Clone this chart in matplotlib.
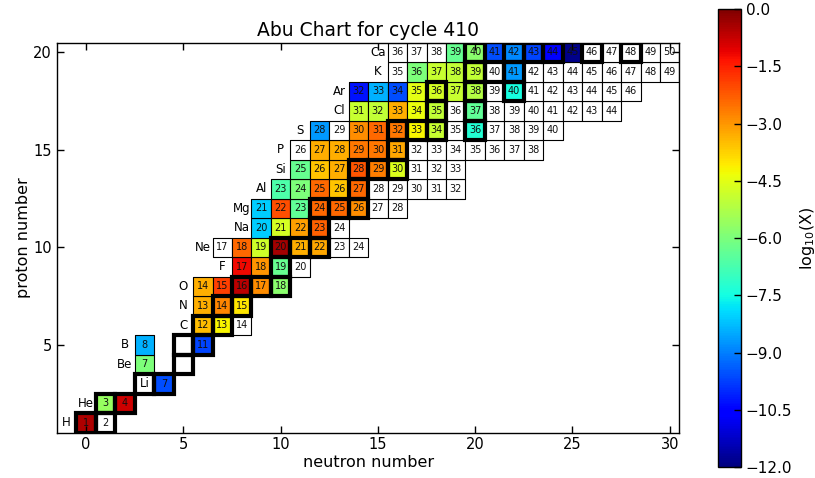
import numpy as np
import matplotlib
matplotlib.use('Agg')
import matplotlib.pyplot as plt
from matplotlib.patches import Rectangle
from matplotlib.collections import PatchCollection
from matplotlib.colors import Normalize

nan = np.nan

elements = ['H', 'He', 'Li', 'Be', 'B', 'C', 'N', 'O', 'F', 'Ne',
            'Na', 'Mg', 'Al', 'Si', 'P', 'S', 'Cl', 'Ar', 'K', 'Ca']
proton_numbers = [1, 2, 3, 4, 5, 6, 7, 8, 9, 10,
                  11, 12, 13, 14, 15, 16, 17, 18, 19, 20]

mass_numbers = [
    [1, 2],
    [3, 4],
    [7],
    [7],
    [8, 11],
    [12, 13, 14],
    [13, 14, 15],
    [14, 15, 16, 17, 18],
    [17, 18, 19, 20],
    [17, 18, 19, 20, 21, 22, 23, 24],
    [20, 21, 22, 23, 24],
    [21, 22, 23, 24, 25, 26, 27, 28],
    [23, 24, 25, 26, 27, 28, 29, 30, 31, 32],
    [25, 26, 27, 28, 29, 30, 31, 32, 33],
    [26, 27, 28, 29, 30, 31, 32, 33, 34, 35, 36, 37, 38],
    [28, 29, 30, 31, 32, 33, 34, 35, 36, 37, 38, 39, 40],
    [31, 32, 33, 34, 35, 36, 37, 38, 39, 40, 41, 42, 43, 44],
    [32, 33, 34, 35, 36, 37, 38, 39, 40, 41, 42, 43, 44, 45, 46],
    [35, 36, 37, 38, 39, 40, 41, 42, 43, 44, 45, 46, 47, 48, 49],
    [36, 37, 38, 39, 40, 41, 42, 43, 44, 45, 46, 47, 48, 49, 50],
]

# log10 mass fractions (nan = below plotting range, drawn white)
log_abundances = [
    [-0.5, nan],
    [-5.6, -0.8],
    [-9.6],
    [-6.0],
    [-8.4, -9.7],
    [-3.5, -4.2, nan],
    [-3.3, -2.8, -4.0],
    [-3.3, -1.9, -0.65, -2.9, -5.8],
    [-1.2, -3.0, -6.3, nan],
    [nan, -2.4, -4.8, -0.4, -3.3, -3.2, nan, nan],
    [-8.1, -4.7, -3.1, -2.3, nan],
    [-8.1, -2.1, -6.4, -2.4, -2.4, -2.9, nan, nan],
    [-6.7, -6.0, -2.4, -3.6, -2.4, nan, nan, nan, nan, nan],
    [-6.3, -3.6, -3.3, -2.2, -2.7, -4.6, nan, nan, nan],
    [nan, -3.3, -3.3, -2.6, -2.6, -3.2, nan, nan, nan, nan, nan, nan, nan],
    [-8.7, nan, -2.9, -2.4, -2.6, -4.2, -4.9, nan, -7.3, nan, nan, nan, nan],
    [-4.9, -5.0, -3.3, -4.4, -5.0, nan, -6.4, nan, nan, nan, nan, nan, nan, nan],
    [-10.3, -8.4, -9.6, -4.5, -4.7, -4.9, -5.2, nan, -7.5, nan, nan, nan, nan, nan, nan],
    [nan, -6.0, -4.9, -5.0, -5.0, nan, -8.7, nan, nan, nan, nan, nan, nan, nan, nan],
    [nan, nan, nan, -6.3, -5.8, -9.6, -8.9, -9.7, -10.6, -11.9, nan, nan, nan, nan, nan],
]

# stable isotopes (Z, A)
stable_isotopes = [
    (1, 1), (1, 2), (2, 3), (2, 4), (3, 6), (3, 7), (4, 9), (5, 10), (5, 11),
    (6, 12), (6, 13), (7, 14), (7, 15), (8, 16), (8, 17), (8, 18), (9, 19),
    (10, 20), (10, 21), (10, 22), (11, 23), (12, 24), (12, 25), (12, 26),
    (13, 27), (14, 28), (14, 29), (14, 30), (15, 31), (16, 32), (16, 33),
    (16, 34), (16, 36), (17, 35), (17, 37), (18, 36), (18, 38), (18, 40),
    (19, 39), (19, 40), (19, 41), (20, 40), (20, 42), (20, 43), (20, 44),
    (20, 46), (20, 48),
]

x_ticks = [0, 5, 10, 15, 20, 25, 30]
y_ticks = [5, 10, 15, 20]
cbar_ticks = [-12.0, -10.5, -9.0, -7.5, -6.0, -4.5, -3.0, -1.5, 0.0]

fig = plt.figure(figsize=(8.15, 4.78), dpi=100)
ax = fig.add_axes([0.0699, 0.095, 0.7638, 0.816])
cax = fig.add_axes([0.8806, 0.023, 0.0282, 0.958])

patches = []
values = []
for el, Z, As, logs in zip(elements, proton_numbers, mass_numbers, log_abundances):
    for A, lg in zip(As, logs):
        N = A - Z
        patches.append(Rectangle((N - 0.5, Z - 0.5), 1, 1))
        values.append(lg)
        ax.text(N, Z, str(A), ha='center', va='center', fontsize=7,
                color='#111111', zorder=4)
    ax.text(min(As) - Z - 1, Z, el, ha='center', va='center', fontsize=8.5,
            zorder=4)

cmap = plt.get_cmap('jet').copy()
cmap.set_bad('white')
cmap.set_under('white')
pc = PatchCollection(patches, cmap=cmap, norm=Normalize(vmin=-12, vmax=0),
                     edgecolor='black', linewidth=0.8, zorder=1)
pc.set_array(np.ma.masked_invalid(np.array(values, dtype=float)))
ax.add_collection(pc)

for Z, A in stable_isotopes:
    ax.add_patch(Rectangle((A - Z - 0.5, Z - 0.5), 1, 1, fill=False,
                           edgecolor='black', linewidth=3, zorder=3))

ax.set_xlim(-1.5, 30.5)
ax.set_ylim(0.5, 20.5)
ax.set_xticks(x_ticks)
ax.set_yticks(y_ticks)
ax.tick_params(direction='in', top=True, right=True, length=5, width=1,
               labelsize=10.5)
for s in ax.spines.values():
    s.set_linewidth(1)
ax.set_xlabel('neutron number', fontsize=11.5, labelpad=2)
ax.set_ylabel('proton number', fontsize=11.5, labelpad=2)
ax.set_title('Abu Chart for cycle 410', fontsize=13.5, pad=5)

cb = fig.colorbar(pc, cax=cax)
cb.set_ticks(cbar_ticks)
cax.tick_params(direction='in', length=5, width=1, labelsize=11)
cb.outline.set_linewidth(1)
cb.set_label('log$_{10}$(X)', fontsize=11.5)

fig.savefig('out.png', dpi=100)
